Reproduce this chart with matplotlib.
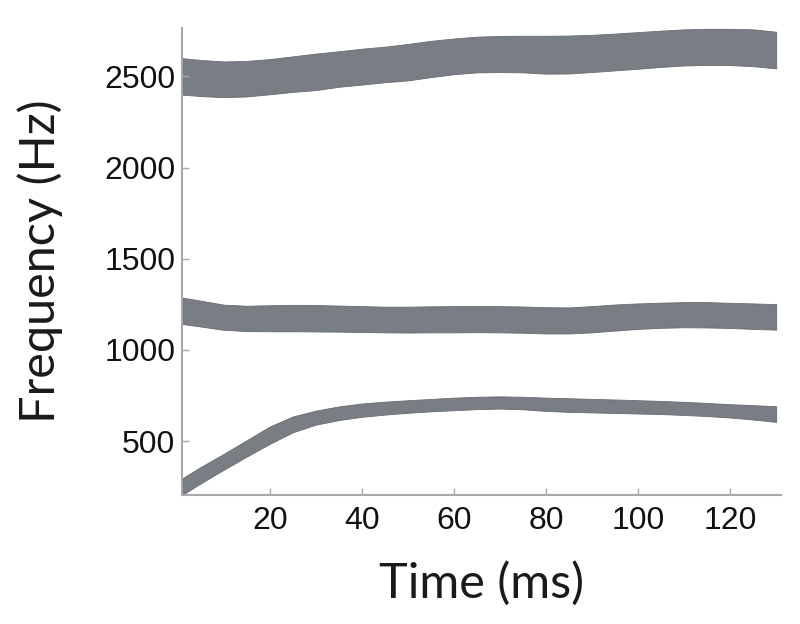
import numpy as np
import matplotlib
matplotlib.use("Agg")
import matplotlib.pyplot as plt

# Zeitpunkte (ms)
t = [1, 5, 10, 15, 20, 25, 30, 35, 40, 45, 50, 55, 60, 65, 70, 75, 80, 85,
     90, 95, 100, 105, 110, 115, 120, 125, 130]

# F3: obere und untere Kante (Hz)
f3_hi = [2600, 2590, 2582, 2585, 2595, 2610, 2625, 2638, 2652, 2663, 2678, 2695,
         2708, 2718, 2722, 2723, 2723, 2724, 2728, 2735, 2743, 2751, 2758, 2761,
         2761, 2758, 2745]
f3_lo = [2400, 2392, 2386, 2390, 2402, 2415, 2425, 2443, 2455, 2468, 2478, 2496,
         2512, 2522, 2524, 2522, 2515, 2516, 2524, 2533, 2542, 2552, 2560, 2563,
         2562, 2556, 2544]

# F2
f2_hi = [1287, 1270, 1248, 1242, 1245, 1247, 1246, 1243, 1240, 1237, 1237, 1239,
         1240, 1240, 1240, 1238, 1234, 1233, 1240, 1249, 1255, 1259, 1262, 1262,
         1258, 1255, 1251]
f2_lo = [1142, 1128, 1110, 1103, 1102, 1102, 1101, 1100, 1098, 1096, 1095, 1096,
         1096, 1097, 1096, 1094, 1090, 1090, 1096, 1106, 1115, 1121, 1124, 1123,
         1120, 1115, 1111]

# F1
f1_hi = [296, 358, 430, 505, 580, 635, 667, 690, 706, 716, 724, 731, 738, 743,
         745, 743, 738, 735, 731, 728, 724, 720, 715, 709, 702, 697, 691]
f1_lo = [205, 268, 343, 415, 485, 548, 590, 615, 633, 645, 655, 663, 669, 675,
         678, 674, 665, 660, 657, 654, 651, 648, 643, 637, 629, 618, 605]

band_color = "#797e84"
axis_color = "#a8a8a8"

fig = plt.figure(figsize=(8, 6.24), dpi=100)
ax = fig.add_axes([0.228, 0.207, 0.748, 0.748])

for lo, hi in [(f1_lo, f1_hi), (f2_lo, f2_hi), (f3_lo, f3_hi)]:
    ax.fill_between(t, lo, hi, color=band_color, edgecolor="#686c71", linewidth=0.6)

ax.set_xlim(1, 131)
ax.set_ylim(205, 2765)
ax.set_xticks([20, 40, 60, 80, 100, 120])
ax.set_yticks([500, 1000, 1500, 2000, 2500])

for side in ["top", "right"]:
    ax.spines[side].set_visible(False)
for side in ["left", "bottom"]:
    ax.spines[side].set_color(axis_color)
    ax.spines[side].set_linewidth(1.5)

ax.tick_params(axis="both", direction="in", length=5, width=1, color=axis_color,
               labelsize=23, labelcolor="#111111")
ax.tick_params(axis="x", pad=8)
ax.tick_params(axis="y", pad=5)
for lab in ax.get_xticklabels() + ax.get_yticklabels():
    lab.set_family("Liberation Sans")

ax.set_xlabel("Time (ms)", fontsize=35, family="Lato", labelpad=18, color="#1a1a1a")
ax.set_ylabel("Frequency (Hz)", fontsize=35, family="Lato", labelpad=30, color="#1a1a1a")

fig.savefig("out.png", dpi=100, facecolor="white")
